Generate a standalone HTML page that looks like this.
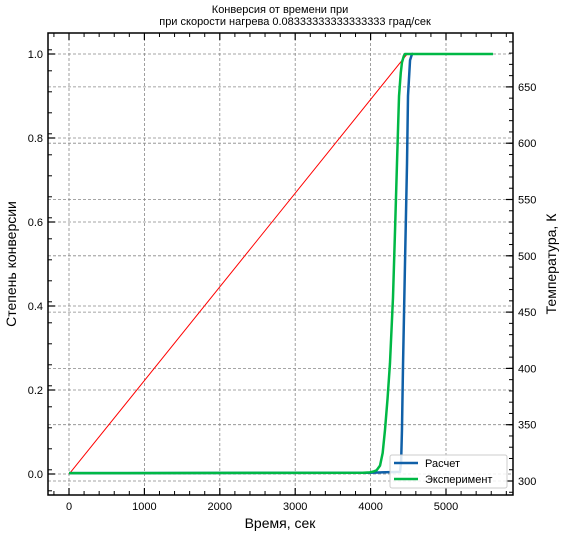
<!DOCTYPE html>
<html><head><meta charset="utf-8"><style>
body{margin:0;background:#fff}
svg text{font-family:"Liberation Sans","DejaVu Sans",sans-serif}
</style></head><body>
<svg id="chart" width="565" height="536" xmlns="http://www.w3.org/2000/svg">
<text x="280" y="13" font-size="11" text-anchor="middle">Конверсия от времени при</text>
<text x="295" y="25" font-size="11" text-anchor="middle">при скорости нагрева 0.08333333333333333 град/сек</text>
<g id="grid"></g><g id="series"></g><g id="axes"></g>
<text x="280" y="528" font-size="14" text-anchor="middle">Время, сек</text>
<text transform="translate(16,264) rotate(-90)" font-size="14" text-anchor="middle">Степень конверсии</text>
<text transform="translate(556,264) rotate(-90)" font-size="14" text-anchor="middle">Температура, К</text>
<g>
<rect x="390" y="455" width="117" height="33" fill="#fff" fill-opacity="0.85" stroke="#ccc" rx="2"/>
<line x1="394" y1="463" x2="418" y2="463" stroke="#1060a8" stroke-width="2.5"/>
<text x="425" y="467" font-size="11">Расчет</text>
<line x1="394" y1="479" x2="418" y2="479" stroke="#00b845" stroke-width="2.5"/>
<text x="425" y="483" font-size="11">Эксперимент</text>
</g>
</svg>
<script>
const xTicks=[0,1000,2000,3000,4000,5000];
const yTicks=[0,0.2,0.4,0.6,0.8,1.0];
const tTicks=[300,350,400,450,500,550,600,650];
const tempTime=[0,4483,4560];
const tempVals=[306,679,679];
const expTime=[0,3900,3990,4040,4080,4125,4160,4191,4225,4257,4297,4324,4350,4377,4400,4416,4440,4456,5623];
const expVals=[0.002,0.003,0.004,0.006,0.009,0.02,0.05,0.105,0.18,0.264,0.42,0.58,0.74,0.90,0.955,0.98,0.995,1.0,1.0];
const calcTime=[0,3990,4390,4405,4416,4430,4456,4483,4496,4523,4549,4562];
const calcVals=[0.002,0.003,0.005,0.03,0.105,0.26,0.5,0.74,0.9,0.985,1.0,1.0];
const L=48,R=513,T=33,B=495;
const sx=t=>69+t*0.0754;
const sy=v=>474-v*420;
const st=k=>481-(k-300)*1.126;
const NS="http://www.w3.org/2000/svg";
function mk(p,tag,a){const e=document.createElementNS(NS,tag);for(const k in a)e.setAttribute(k,a[k]);p.appendChild(e);return e;}
const g=document.getElementById('grid'),s=document.getElementById('series'),ax=document.getElementById('axes');
xTicks.forEach(t=>{const l=mk(g,'line',{x1:sx(t),x2:sx(t),y1:T,y2:B,stroke:'#888','stroke-width':0.8,'stroke-dasharray':'3,2'});


const tx=mk(ax,'text',{x:sx(t),y:510,'font-size':11,'text-anchor':'middle'});tx.textContent=t;


mk(ax,'line',{x1:sx(t),x2:sx(t),y1:B,y2:B-7,stroke:'#000','stroke-width':1.2});
mk(ax,'line',{x1:sx(t),x2:sx(t),y1:T,y2:T+7,stroke:'#000','stroke-width':1.2});});
for(let t=-200;t<=5800;t+=200){if(t%1000==0)continue;const x=sx(t);if(x<L||x>R)continue;
mk(ax,'line',{x1:x,x2:x,y1:B,y2:B-4,stroke:'#000'});mk(ax,'line',{x1:x,x2:x,y1:T,y2:T+4,stroke:'#000'});}
yTicks.forEach(v=>{const l=mk(g,'line',{x1:L,x2:R,y1:sy(v),y2:sy(v),stroke:'#888','stroke-width':0.8,'stroke-dasharray':'3,2'});


const tx=mk(ax,'text',{x:43,y:sy(v)+4,'font-size':11,'text-anchor':'end'});tx.textContent=v.toFixed(1);


mk(ax,'line',{x1:L,x2:L+7,y1:sy(v),y2:sy(v),stroke:'#000','stroke-width':1.2});});
for(let v=-0.04;v<=1.04;v+=0.05){const y=sy(v);if(y<T||y>B)continue;mk(ax,'line',{x1:L,x2:L+4,y1:y,y2:y,stroke:'#000'});}
tTicks.forEach(k=>{const l=mk(g,'line',{x1:L,x2:R,y1:st(k),y2:st(k),stroke:'#888','stroke-width':0.8,'stroke-dasharray':'3,2'});


const tx=mk(ax,'text',{x:518,y:st(k)+4,'font-size':11});tx.textContent=k;


mk(ax,'line',{x1:R,x2:R-7,y1:st(k),y2:st(k),stroke:'#000','stroke-width':1.2});});
for(let k=290;k<=690;k+=10){const y=st(k);if(y<T||y>B)continue;mk(ax,'line',{x1:R,x2:R-4,y1:y,y2:y,stroke:'#000'});}
const fr=mk(ax,'rect',{x:L,y:T,width:R-L,height:B-T,fill:'none',stroke:'#000','stroke-width':1.5});


function line(ts,vs,f,c,w,n){const p=mk(s,'polyline',{points:ts.map((t,i)=>sx(t)+','+f(vs[i])).join(' '),fill:'none',stroke:c,'stroke-width':w,'stroke-linejoin':'round'});

}
line(tempTime,tempVals,st,'#ff0000',1,'temperature-line');
line(calcTime,calcVals,sy,'#1060a8',2.5,'calc-conversion-line');
line(expTime,expVals,sy,'#00b845',2.5,'exp-conversion-line');
</script>
</body></html>
